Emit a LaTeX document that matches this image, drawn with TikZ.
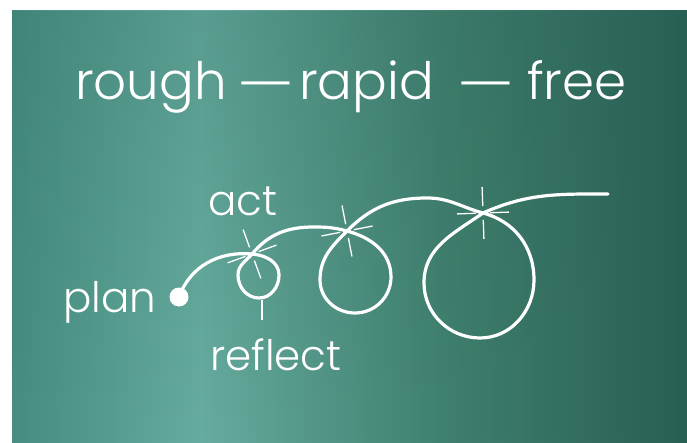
\documentclass[tikz,border=0pt]{standalone}
\usepackage{fontspec}
\setmainfont{Poppins Light}
\usepackage{tikz}
\usetikzlibrary{calc,fadings}

\definecolor{boardedge}{HTML}{468E81}
\definecolor{boardlight}{HTML}{66AC9F}
\definecolor{boardmid}{HTML}{40806F}
\definecolor{boarddark}{HTML}{296054}

% the board spans 25bp..75bp of the shading
\pgfdeclarehorizontalshading{board}{100bp}{%
  color(0bp)=(boardedge); color(25bp)=(boardedge);
  color(39bp)=(boardlight); color(57bp)=(boardmid);
  color(75bp)=(boarddark); color(100bp)=(boarddark)}
\tikzfading[name=boardtop, top color=transparent!80, bottom color=transparent!100]

% little cross drawn over a crossing of the loop line
\newcommand{\sparkle}[2]{%
  \foreach \a in {0,90,180,270}
    \draw[spark] ($(#1)+(\a+#2:7)$) -- ($(#1)+(\a+#2:26)$);
}

\begin{document}
\begin{tikzpicture}[x=1pt, y=1pt,
    word/.style={text=white, inner sep=0pt, anchor=base west, font=\fontsize{51.5}{60}\selectfont},
    tag/.style={text=white, inner sep=0pt, anchor=base west, font=\fontsize{42}{50}\selectfont},
    trail/.style={white, line width=3.2pt, line cap=round},
    spark/.style={white, line width=1.3pt},
    dotnode/.style={circle, fill=white, minimum size=19pt, inner sep=0pt}
]
    % board
    \fill[white] (0,0) rectangle (687,442);
    \shade[shading=board] (12,0) rectangle (687,431);
    \fill[boarddark, path fading=boardtop] (12,0) rectangle (687,431);

    % title
    \node[word] (rough) at (75,342)  {rough};
    \node[word] (dasha) at (237,339) {\scalebox{1.3}[1]{—}};
    \node[word] (rapid) at (299,342) {rapid};
    \node[word] (dashb) at (457,339) {\scalebox{1.3}[1]{—}};
    \node[word] (free)  at (527,342) {free};

    % labels
    \node[tag] (plan)    at (63,130) {plan};
    \node[tag] (act)     at (208,226) {act};
    \node[tag] (reflect) at (210,72)  {reflect};

    \node[dotnode] (start) at (179,145) {};

    \coordinate (c1) at (252,188);
    \coordinate (r1) at (279,167);
    \coordinate (b1) at (259,144);
    \coordinate (l1) at (238,167);
    \coordinate (a1) at (314,215);
    \coordinate (c2) at (347,211);
    \coordinate (r2) at (391,165);
    \coordinate (b2) at (355,129);
    \coordinate (l2) at (320,162);
    \coordinate (a2) at (427,244);
    \coordinate (c3) at (483,229);
    \coordinate (r3) at (534,162);
    \coordinate (b3) at (480,104);
    \coordinate (l3) at (424,159);
    \coordinate (stop) at (608,248);

    \draw[trail] (start.center) to[out=70,in=175] (c1)
        to[out=-5,in=90] (r1) to[out=-90,in=0] (b1)
        to[out=180,in=-90] (l1) to[out=90,in=230] (c1)
        to[out=50,in=180] (a1) to[out=0,in=165] (c2)
        to[out=-15,in=90] (r2) to[out=-90,in=0] (b2)
        to[out=180,in=-90] (l2) to[out=90,in=225] (c2)
        to[out=45,in=180] (a2) to[out=0,in=165] (c3)
        to[out=-15,in=90] (r3) to[out=-90,in=0] (b3)
        to[out=180,in=-90] (l3) to[out=90,in=215] (c3)
        to[out=24,in=180] (stop);

    \sparkle{c1}{20}
    \sparkle{c2}{11}
    \sparkle{c3}{2}
    \draw[spark] ($(b1)+(3,-2)$) -- ($(b1)+(3,-22)$);
\end{tikzpicture}
\end{document}
